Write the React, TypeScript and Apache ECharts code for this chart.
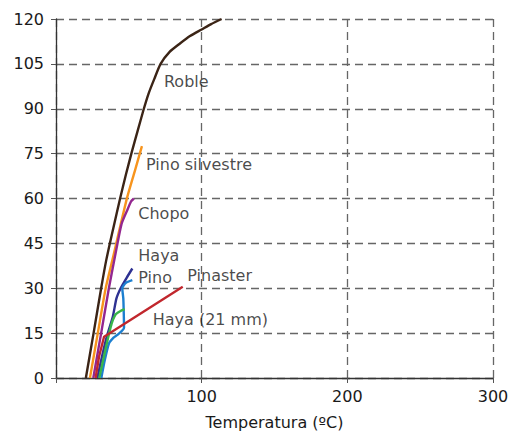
import React, { useEffect, useRef } from "react";
import * as echarts from "echarts";

const FONT = "DejaVu Sans";

const seriesNames = ["Roble", "Pino silvestre", "Chopo", "Haya", "Pino", "Pinaster"];
const colors = ["#3b2416", "#f7941d", "#93278f", "#2e3192", "#1c7fd0", "#c1272d"];

const roble: number[][] = [
  [20.5, 0], [25.8, 15], [31, 30], [34.5, 39.4], [39.3, 50], [44, 60], [48, 68], [52, 75.5],
  [56, 82.5], [60, 89.5], [63.5, 95], [67.5, 100], [71.8, 105], [78, 109], [85.1, 111.8],
  [92, 114.3], [100, 116.5], [106.5, 118.3], [113.7, 120],
];
const pinoSilvestre: number[][] = [
  [23.3, 0], [28.7, 15], [34.1, 30], [38.7, 39.4], [48.5, 59.7], [54, 69], [59, 77.5],
];
const chopo: number[][] = [
  [25.6, 0], [31, 15], [36.3, 30], [40, 39.4], [45, 51.5], [48.9, 56.1], [51.5, 59], [53.5, 60],
];
const haya: number[][] = [
  [28.4, 0], [31.5, 7], [35.2, 14.4], [39, 20.5], [41.5, 26.6], [44.4, 30], [48.5, 33.5], [52.4, 36.6],
];
const pino: number[][] = [
  [31.1, 0], [33.5, 6], [36.4, 11.6], [39.5, 13.5], [42.1, 14.4], [46.7, 16.8], [46.5, 22],
  [46.2, 26.6], [45.5, 30], [48, 31.8], [52.4, 32.7],
];
const pinaster: number[][] = [[27.2, 0], [29.5, 7], [33, 13.8], [87, 30.5]];
const haya21: number[][] = [
  [29.7, 0], [34.1, 9.9], [37, 16], [38.6, 18.8], [41, 21.3], [44, 22.3], [47.1, 23],
];

const labelTexts = ["Roble", "Pino silvestre", "Chopo", "Haya", "Pino", "Pinaster", "Haya (21 mm)"];
const labelX = [74.1, 61.8, 56.5, 56.5, 56.5, 90.1, 66.4];
const labelY = [99.0, 71.4, 55.0, 40.8, 33.6, 34.4, 19.4];

const xTicks = { min: 0, max: 300, interval: 100 };
const yTicks = { min: 0, max: 120, interval: 15 };
const xName = "Temperatura (ºC)";

export default function App() {
  const ref = useRef<HTMLDivElement>(null);
  useEffect(() => {
    if (!ref.current) return;
    const chart = echarts.init(ref.current, undefined, { renderer: "svg" });
    const lines = [
      { name: seriesNames[0], data: roble, color: colors[0], smooth: 0.2 },
      { name: seriesNames[1], data: pinoSilvestre, color: colors[1], smooth: 0.2 },
      { name: seriesNames[2], data: chopo, color: colors[2], smooth: 0.2 },
      { name: seriesNames[3], data: haya, color: colors[3], smooth: 0.2 },
      { name: seriesNames[4], data: pino, color: colors[4], smooth: 0.2 },
      { name: "Haya (21 mm)", data: haya21, color: "#39b54a", smooth: 0.2 },
      { name: seriesNames[5], data: pinaster, color: colors[5], smooth: false },
    ];
    const splitLine = {
      show: true,
      lineStyle: { color: "#666", type: [8, 5] as any, width: 1.3 },
    };
    const textColor = "#1a1a1a";
    chart.setOption({
      animation: false,
      grid: { left: 56, right: 19, top: 19, bottom: 54, containLabel: false, outerBoundsMode: "none" },
      xAxis: {
        type: "value",
        ...xTicks,
        name: xName,
        nameLocation: "middle",
        nameGap: 36,
        nameTextStyle: { fontFamily: FONT, fontSize: 16, color: textColor },
        axisLine: { show: true, lineStyle: { color: "#333", width: 1.3 } },
        axisTick: { show: true, length: 5, lineStyle: { color: "#555" } },
        axisLabel: {
          fontFamily: FONT, fontSize: 16, color: textColor, margin: 10,
          formatter: (v: number) => (v === 0 ? "" : String(v)),
        },
        splitLine,
      },
      yAxis: {
        type: "value",
        ...yTicks,
        axisLine: { show: true, lineStyle: { color: "#333", width: 1.3 } },
        axisTick: { show: true, length: 5, lineStyle: { color: "#555" } },
        axisLabel: { fontFamily: FONT, fontSize: 16, color: textColor, margin: 12 },
        splitLine,
      },
      series: [
        ...lines.map((l) => ({
          type: "line",
          name: l.name,
          data: l.data,
          smooth: l.smooth,
          showSymbol: false,
          symbol: "none",
          lineStyle: { color: l.color, width: 2.4 },
          itemStyle: { color: l.color },
          z: 3,
        })),
        {
          type: "scatter",
          symbolSize: 0,
          data: labelTexts.map((t, i) => ({ value: [labelX[i], labelY[i]], name: t })),
          label: {
            show: true,
            position: "right",
            distance: 0,
            formatter: (p: any) => p.name,
            fontFamily: FONT,
            fontSize: 16,
            color: textColor,
          },
          z: 5,
        },
      ],
    });
    return () => chart.dispose();
  }, []);
  return <div ref={ref} style={{ width: 512, height: 432, position: "absolute", left: 0, top: 0 }} />;
}
